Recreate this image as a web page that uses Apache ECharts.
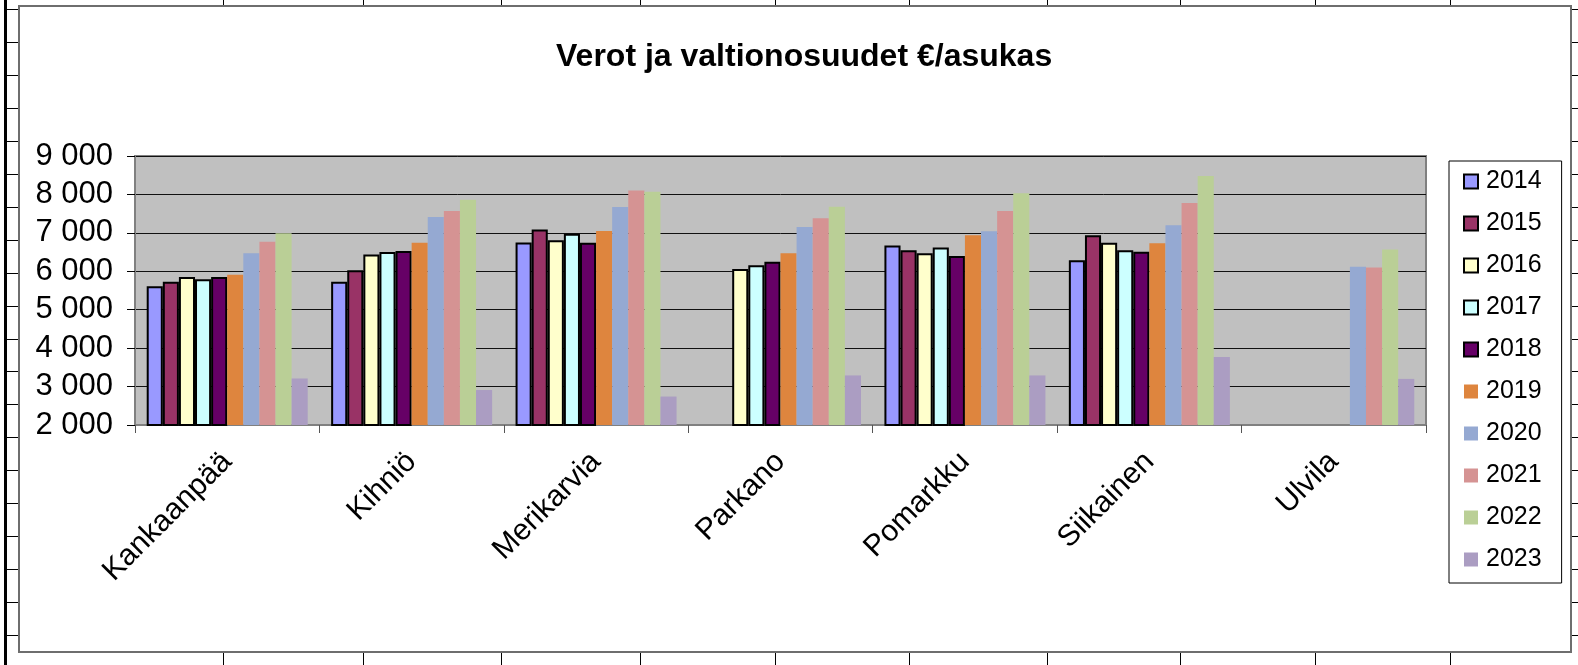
<!DOCTYPE html>
<html>
<head>
<meta charset="utf-8">
<script src="https://cdn.jsdelivr.net/npm/echarts@6/dist/echarts.min.js"></script>
<style>
  html, body { margin: 0; padding: 0; background: #fff; }
  #main { width: 1578px; height: 665px; }
</style>
</head>
<body>
<div id="main"></div>
<script>
const categories = ['Kankaanpää', 'Kihniö', 'Merikarvia', 'Parkano', 'Pomarkku', 'Siikainen', 'Ulvila'];
const years = ['2014', '2015', '2016', '2017', '2018', '2019', '2020', '2021', '2022', '2023'];
const yTicks = [2000, 3000, 4000, 5000, 6000, 7000, 8000, 9000];

const v2014 = [5610, 5730, 6750, null, 6670, 6290, null];
const v2015 = [5730, 6030, 7090, null, 6550, 6940, null];
const v2016 = [5850, 6440, 6810, 6060, 6470, 6740, null];
const v2017 = [5790, 6500, 6980, 6160, 6620, 6550, null];
const v2018 = [5850, 6530, 6740, 6250, 6400, 6510, null];
const v2019 = [5910, 6740, 7050, 6470, 6940, 6730, null];
const v2020 = [6470, 7410, 7670, 7150, 7040, 7200, 6120];
const v2021 = [6770, 7570, 8100, 7380, 7570, 7780, 6100];
const v2022 = [6990, 7860, 8070, 7680, 8030, 8480, 6570];
const v2023 = [3210, 2910, 2740, 3290, 3290, 3770, 3200];

const values = [v2014, v2015, v2016, v2017, v2018, v2019, v2020, v2021, v2022, v2023];
const colors = ['#9999FF', '#993366', '#FFFFCC', '#CCFFFF', '#660066',
  '#DE853E', '#95A9D2', '#D59393', '#BACF96', '#AB9DC2'];
// first five years are drawn with a black outline
const outlined = [true, true, true, true, true, false, false, false, false, false];

const font = 'Arial, "Liberation Sans", sans-serif';

// spreadsheet cell lines around the embedded chart
function sheetLines() {
  const g = [];
  g.push({ type: 'rect', shape: { x: 4, y: 0, width: 3, height: 665 }, style: { fill: '#000' }, z: 0 });
  for (let k = 0; k < 21; k++) {
    const y = Math.round(9 + k * 32.95) + 0.5;
    g.push({ type: 'line', shape: { x1: 7, y1: y, x2: 19, y2: y }, style: { stroke: '#000', lineWidth: 1 } });
    g.push({ type: 'line', shape: { x1: 1571, y1: y, x2: 1578, y2: y }, style: { stroke: '#000', lineWidth: 1 } });
  }
  [223, 363, 501, 640, 775, 909, 1047, 1180, 1315, 1450].forEach(x => {
    g.push({ type: 'line', shape: { x1: x + 0.5, y1: 0, x2: x + 0.5, y2: 6 }, style: { stroke: '#000', lineWidth: 1 } });
    g.push({ type: 'line', shape: { x1: x + 0.5, y1: 652, x2: x + 0.5, y2: 665 }, style: { stroke: '#000', lineWidth: 1 } });
  });
  g.push({
    type: 'rect', shape: { x: 19, y: 6, width: 1552, height: 646 },
    style: { fill: 'none', stroke: '#6e6e6e', lineWidth: 2 }, z: 0
  });
  return g;
}

const chart = echarts.init(document.getElementById('main'));

const option = {
  animation: false,
  backgroundColor: '#fff',
  color: colors,
  title: {
    text: 'Verot ja valtionosuudet €/asukas',
    left: 556,
    top: 41,
    padding: 0,
    textStyle: { fontFamily: font, fontSize: 32, fontWeight: 'bold', color: '#000' }
  },
  graphic: sheetLines(),
  legend: {
    orient: 'vertical',
    left: 1449,
    top: 161,
    padding: [8, 20, 11, 14],
    itemWidth: 14,
    itemHeight: 14,
    itemGap: 17,
    icon: 'rect',
    borderColor: '#000',
    borderWidth: 1,
    backgroundColor: '#fff',
    textStyle: { fontFamily: font, fontSize: 25, color: '#000', padding: [0, 0, 0, 3] },
    data: years
  },
  grid: {
    left: 135,
    right: 152,
    top: 156,
    bottom: 240,
    show: true,
    backgroundColor: '#C0C0C0',
    borderColor: '#808080',
    borderWidth: 2
  },
  xAxis: {
    type: 'category',
    data: categories,
    axisLine: { lineStyle: { color: '#808080', width: 2 } },
    axisTick: { show: true, length: 8, lineStyle: { color: '#555' } },
    axisLabel: {
      rotate: 45,
      margin: 32,
      fontFamily: font,
      fontSize: 30,
      color: '#000'
    }
  },
  yAxis: {
    type: 'value',
    min: yTicks[0],
    max: yTicks[yTicks.length - 1],
    interval: 1000,
    axisLine: { show: true, lineStyle: { color: '#808080', width: 2 } },
    axisTick: { show: true, length: 8, lineStyle: { color: '#000' } },
    splitLine: { lineStyle: { color: '#111', width: 1 } },
    axisLabel: {
      margin: 22,
      fontFamily: font,
      fontSize: 31,
      color: '#000',
      formatter: v => String(v).replace(/\B(?=(\d{3})+(?!\d))/g, ' ')
    }
  },
  series: years.map((y, i) => ({
    name: y,
    type: 'bar',
    data: values[i],
    barGap: '0%',
    barCategoryGap: '12.7%',
    itemStyle: outlined[i]
      ? { color: colors[i], borderColor: '#000', borderWidth: 2 }
      : { color: colors[i] }
  }))
};

chart.setOption(option);
</script>
</body>
</html>
